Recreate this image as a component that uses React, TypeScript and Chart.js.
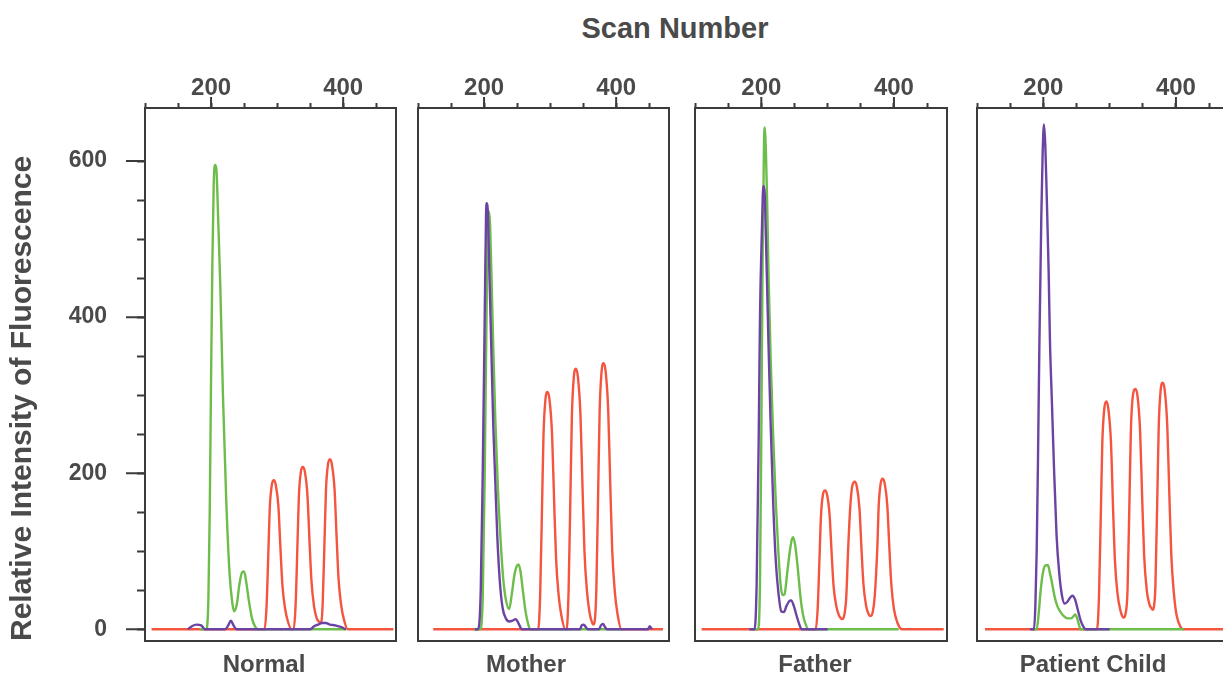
import React, { useEffect, useRef } from 'react';
import { Chart, registerables } from 'chart.js';

Chart.register(...registerables);

const FONT = '"Liberation Sans", Arial, Helvetica, sans-serif';
const TEXT = '#4a4a4a';
const AXIS = '#3b3b3b';
const RED = '#f4553f';
const GREEN = '#6dbd4b';
const PURPLE = '#6b44a3';

// ---------- labels & ticks ----------
const panelNames = ['Normal', 'Mother', 'Father', 'Patient Child'];
const xTitle = 'Scan Number';
const yTitle = 'Relative Intensity of Fluorescence';
const xTickValues = [100, 150, 200, 250, 300, 350, 400, 450];
const xMajorTicks = [200, 400];
const yTickValues = [0, 50, 100, 150, 200, 250, 300, 350, 400, 450, 500, 550, 600];
const yMajorTicks = [0, 200, 400, 600];
const scanRange = [100, 480];
const intensityRange = [-15, 668];

// ---------- Normal ----------
const normalPurpleX = [165, 171, 178, 185, 191, 221, 226, 230, 234, 239, 350, 356, 362, 368, 374, 380, 388, 396, 404];
const normalPurpleY = [0, 4, 6, 5, 0, 0, 5, 11, 5, 0, 0, 4, 6, 8, 8, 6, 5, 3, 0];
const normalGreenX = [183, 193, 196, 198, 200, 202, 204, 206, 208, 211, 214, 218, 223, 228, 232, 235, 239, 243, 247, 250, 253, 257, 262, 267, 271, 405];
const normalGreenY = [0, 0, 40, 150, 320, 470, 570, 595, 590, 520, 440, 300, 165, 72, 35, 23, 32, 58, 73, 74, 62, 38, 14, 3, 0, 0];
const normalRedX = [110, 281, 284, 287, 289, 292, 295, 298, 302, 305, 308, 312, 316, 322, 325, 328, 331, 333, 336, 339, 342, 346, 349, 352, 356, 360, 363, 365, 367, 369, 372, 374, 377, 380, 383, 387, 390, 393, 397, 401, 407, 476];
const normalRedY = [0, 0, 29, 105, 157, 185, 191, 185, 157, 105, 57, 27, 11, 0, 0, 31, 114, 171, 202, 208, 202, 171, 114, 62, 29, 14, 10, 9, 10, 33, 120, 179, 211, 218, 211, 179, 120, 65, 31, 13, 0, 0];

// ---------- Mother ----------
const motherPurpleX = [186, 191, 195, 198, 201, 203, 204, 206, 208, 211, 214, 217, 220, 224, 228, 233, 238, 243, 248, 252, 256, 258, 345, 348, 351, 354, 357, 374, 377, 380, 383, 386, 448, 451, 454];
const motherPurpleY = [0, 0, 50, 200, 400, 530, 546, 530, 460, 360, 260, 190, 120, 60, 28, 14, 10, 11, 13, 8, 1, 0, 0, 5, 6, 3, 0, 0, 5, 7, 3, 0, 0, 4, 0];
const motherGreenX = [185, 194, 198, 201, 204, 207, 209, 211, 214, 217, 221, 225, 229, 233, 238, 242, 246, 249, 252, 255, 259, 263, 267, 270, 410];
const motherGreenY = [0, 0, 40, 200, 420, 536, 520, 460, 360, 270, 180, 115, 65, 38, 26, 45, 70, 80, 83, 75, 48, 22, 6, 0, 0];
const motherRedX = [123, 282, 285, 288, 290, 293, 296, 299, 303, 306, 309, 313, 317, 323, 325, 328, 331, 333, 336, 339, 342, 346, 349, 352, 356, 360, 363, 365, 367, 370, 373, 375, 378, 381, 384, 388, 391, 394, 398, 402, 408, 471];
const motherRedY = [0, 0, 46, 167, 249, 295, 304, 295, 249, 167, 91, 43, 18, 0, 0, 50, 184, 274, 324, 334, 324, 274, 184, 100, 47, 20, 10, 6, 8, 51, 188, 280, 331, 341, 331, 280, 188, 102, 48, 20, 0, 0];

// ---------- Father ----------
const fatherPurpleX = [182, 190, 193, 196, 198, 201, 203, 205, 207, 209, 211, 214, 218, 222, 226, 230, 234, 238, 242, 245, 249, 253, 257, 261, 300];
const fatherPurpleY = [0, 0, 60, 240, 400, 515, 568, 560, 500, 430, 360, 265, 160, 85, 45, 23, 22, 30, 36, 37, 30, 18, 7, 0, 0];
const fatherGreenX = [185, 195, 198, 200, 202, 204, 205, 207, 209, 211, 214, 218, 222, 226, 229, 232, 235, 239, 243, 246, 248, 251, 255, 259, 263, 267, 271, 407];
const fatherGreenY = [0, 0, 60, 250, 480, 620, 643, 610, 540, 450, 350, 245, 160, 95, 58, 44, 45, 72, 100, 115, 118, 108, 78, 42, 18, 6, 0, 0];
const fatherRedX = [110, 282, 285, 288, 290, 293, 296, 299, 303, 306, 309, 313, 317, 320, 322, 325, 328, 331, 334, 337, 341, 344, 348, 351, 354, 358, 362, 365, 368, 371, 375, 377, 380, 383, 386, 390, 393, 396, 400, 405, 412, 475];
const fatherRedY = [0, 0, 27, 98, 146, 173, 178, 173, 146, 98, 55, 30, 18, 14, 13, 18, 40, 104, 155, 183, 189, 183, 155, 104, 58, 30, 19, 17, 22, 42, 106, 158, 187, 193, 187, 158, 106, 58, 26, 9, 0, 0];

// ---------- Patient Child ----------
const childPurpleX = [180, 186, 188, 190, 192, 194, 197, 199, 201, 203, 205, 208, 210, 213, 216, 220, 224, 228, 232, 236, 240, 244, 248, 252, 256, 260, 264, 300];
const childPurpleY = [0, 0, 30, 100, 220, 360, 530, 610, 647, 620, 560, 460, 370, 290, 210, 120, 72, 44, 33, 35, 40, 43, 38, 25, 12, 4, 0, 0];
const childGreenX = [185, 190, 193, 196, 200, 204, 207, 210, 213, 217, 221, 226, 231, 236, 241, 245, 248, 251, 254, 256, 412];
const childGreenY = [0, 0, 20, 50, 75, 82, 82, 72, 60, 42, 30, 22, 17, 14, 14, 16, 19, 14, 5, 0, 0];
const childRedX = [112, 281, 284, 287, 289, 292, 295, 298, 302, 305, 308, 312, 316, 319, 321, 324, 327, 330, 332, 335, 339, 342, 346, 349, 352, 356, 360, 363, 365, 367, 369, 372, 374, 377, 380, 383, 387, 390, 393, 397, 401, 407, 411, 480];
const childRedY = [0, 0, 44, 160, 240, 283, 292, 283, 240, 160, 88, 45, 25, 17, 15, 20, 50, 170, 253, 299, 308, 299, 253, 170, 95, 50, 32, 27, 25, 30, 55, 174, 259, 307, 316, 307, 259, 174, 95, 45, 18, 3, 0, 0];

const panelSeries = [
  [[normalPurpleX, normalPurpleY, PURPLE], [normalGreenX, normalGreenY, GREEN], [normalRedX, normalRedY, RED]],
  [[motherPurpleX, motherPurpleY, PURPLE], [motherGreenX, motherGreenY, GREEN], [motherRedX, motherRedY, RED]],
  [[fatherPurpleX, fatherPurpleY, PURPLE], [fatherGreenX, fatherGreenY, GREEN], [fatherRedX, fatherRedY, RED]],
  [[childPurpleX, childPurpleY, PURPLE], [childGreenX, childGreenY, GREEN], [childRedX, childRedY, RED]],
];

// canvas placement for each panel (page pixels)
const panelLayout = [
  { left: 0, width: 528, axisLeft: 145, axisRight: 132, showY: true },
  { left: 380, width: 292, axisLeft: 38, axisRight: 3, showY: false },
  { left: 680, width: 270, axisLeft: 15, axisRight: 3, showY: false },
  { left: 954, width: 278, axisLeft: 23, axisRight: 3, showY: false },
];
const CANVAS_H = 685;

const toPoints = (xs: number[], ys: number[]) => xs.map((x, i) => ({ x, y: ys[i] }));

function Panel({ index }: { index: number }) {
  const ref = useRef<HTMLCanvasElement | null>(null);
  const lay = panelLayout[index];

  useEffect(() => {
    if (!ref.current) return;
    const showY = lay.showY;
    const framePlugin = {
      id: 'frame' + index,
      afterDraw(chart: any) {
        const { ctx, chartArea } = chart;
        const { left, top, right, bottom } = chartArea;
        ctx.save();
        ctx.strokeStyle = AXIS;
        ctx.lineWidth = 2;
        ctx.strokeRect(left, top, right - left, bottom - top);
        ctx.beginPath();
        const xs = chart.scales.x;
        xMajorTicks.forEach((v) => {
          const px = xs.getPixelForValue(v);
          ctx.moveTo(px, top);
          ctx.lineTo(px, top - 11);
        });
        if (showY) {
          const ys = chart.scales.y;
          yMajorTicks.forEach((v) => {
            const py = ys.getPixelForValue(v);
            ctx.moveTo(left, py);
            ctx.lineTo(left - 19, py);
          });
        }
        ctx.stroke();
        ctx.restore();
      },
    };

    const chart = new Chart(ref.current, {
      type: 'line',
      data: {
        datasets: panelSeries[index].map(([xs, ys, color]) => ({
          data: toPoints(xs as number[], ys as number[]),
          borderColor: color as string,
          backgroundColor: color as string,
          borderWidth: 2.4,
          pointRadius: 0,
          fill: false,
          cubicInterpolationMode: 'monotone' as const,
        })),
      },
      options: {
        responsive: false,
        animation: false,
        layout: { padding: 0 },
        plugins: {
          legend: { display: false },
          tooltip: { enabled: false },
          title: {
            display: true,
            position: 'bottom',
            text: panelNames[index],
            color: TEXT,
            font: { family: FONT, size: 24, weight: 'bold', lineHeight: 1.2 },
            padding: { top: 9.6, bottom: 5.6 },
          },
        },
        scales: {
          x: {
            type: 'linear',
            position: 'top',
            min: scanRange[0],
            max: scanRange[1],
            afterBuildTicks: (s: any) => {
              s.ticks = xTickValues.map((v) => ({ value: v }));
            },
            ticks: {
              autoSkip: false,
              maxRotation: 0,
              minRotation: 0,
              padding: 0,
              color: TEXT,
              font: { family: FONT, size: 24, weight: 'bold' },
              callback: (v: any) => (xMajorTicks.includes(Number(v)) ? String(v) : ''),
            },
            grid: { drawOnChartArea: false, drawTicks: true, tickLength: 5, tickColor: AXIS, tickWidth: 2 },
            border: { display: false },
            afterFit: (s: any) => {
              s.height = 108;
            },
          },
          y: {
            type: 'linear',
            position: 'left',
            min: intensityRange[0],
            max: intensityRange[1],
            afterBuildTicks: (s: any) => {
              s.ticks = yTickValues.map((v) => ({ value: v }));
            },
            ticks: {
              display: showY,
              autoSkip: false,
              padding: 30,
              color: TEXT,
              font: { family: FONT, size: 23, weight: 'bold' },
              callback: (v: any) => (yMajorTicks.includes(Number(v)) ? String(v) : ''),
            },
            grid: { display: showY, drawOnChartArea: false, drawTicks: true, tickLength: 8, tickColor: AXIS, tickWidth: 2 },
            border: { display: false },
            title: {
              display: showY,
              text: yTitle,
              align: 'start',
              color: TEXT,
              font: { family: FONT, size: 30, weight: 'bold', lineHeight: 1.2 },
              padding: { top: 5, bottom: 0 },
            },
            afterFit: (s: any) => {
              s.width = lay.axisLeft;
            },
          },
          yr: {
            type: 'linear',
            position: 'right',
            display: true,
            ticks: { display: false },
            grid: { display: false },
            border: { display: false },
            afterFit: (s: any) => {
              s.width = lay.axisRight;
            },
          },
        },
      } as any,
      plugins: [framePlugin],
    });
    return () => chart.destroy();
  }, [index]);

  return (
    <canvas
      ref={ref}
      width={lay.width}
      height={CANVAS_H}
      style={{ position: 'absolute', left: lay.left, top: 0, width: lay.width, height: CANVAS_H, display: 'block' }}
    />
  );
}

export default function App() {
  return (
    <div
      style={{
        position: 'fixed',
        left: 0,
        top: 0,
        width: 1223,
        height: 675,
        overflow: 'hidden',
        background: '#ffffff',
      }}
    >
      <div
        style={{
          position: 'absolute',
          left: 475,
          width: 400,
          top: 12,
          height: 32,
          lineHeight: '32px',
          textAlign: 'center',
          fontFamily: FONT,
          fontWeight: 'bold',
          fontSize: 29,
          color: TEXT,
        }}
      >
        {xTitle}
      </div>
      {panelNames.map((_, i) => (
        <Panel key={i} index={i} />
      ))}
    </div>
  );
}
